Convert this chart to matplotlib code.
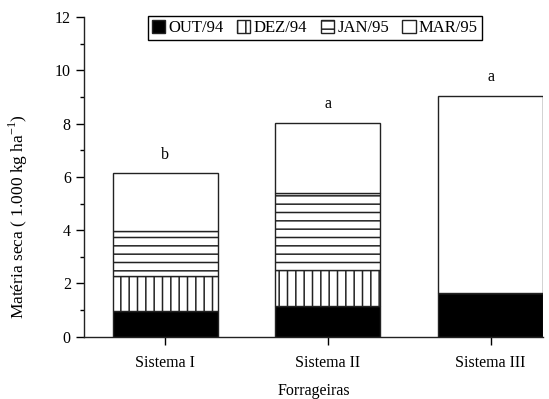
import matplotlib.pyplot as plt
import numpy as np

plt.rcParams['font.family'] = ['Liberation Serif', 'DejaVu Serif']
plt.rcParams['hatch.linewidth'] = 1.1

# dados
sistemas = ['Sistema I', 'Sistema II', 'Sistema III']
out94 = [0.98, 1.17, 1.65]
dez94 = [1.30, 1.34, 0.0]
jan95 = [1.70, 2.90, 0.0]
mar95 = [2.16, 2.62, 7.40]
letras = ['b', 'a', 'a']

periodos = ['OUT/94', 'DEZ/94', 'JAN/95', 'MAR/95']
series = [out94, dez94, jan95, mar95]
cores = ['black', 'white', 'white', 'white']
hachuras = [None, '||', '--', None]

fig = plt.figure(figsize=(5.49, 3.99), dpi=100)
ax = fig.add_axes([0.153, 0.156, 0.836, 0.801])

x = np.arange(len(sistemas))
largura = 0.645
base = np.zeros(len(sistemas))
for nome, vals, cor, hach in zip(periodos, series, cores, hachuras):
    ax.bar(x, vals, largura, bottom=base, color=cor, edgecolor='#222222',
           hatch=hach, linewidth=1.0, label=nome)
    base = base + np.array(vals)

for xi, tot, let in zip(x, base, letras):
    ax.text(xi, tot + 0.4, let, ha='center', va='bottom', fontsize=11.5)

ax.set_xlim(-0.5, 2 + largura / 2)
ax.set_ylim(0, 12)
ax.set_yticks(np.arange(0, 13, 2))
ax.set_yticks(np.arange(0, 13, 1), minor=True)
ax.set_xticks(x)
ax.set_xticklabels(sistemas)
ax.tick_params(axis='both', labelsize=11.5, direction='out', length=6, width=1)
ax.tick_params(axis='x', pad=7)
ax.tick_params(axis='y', which='minor', length=3, width=1)
ax.spines['top'].set_visible(False)
ax.spines['right'].set_visible(False)
for s in ['left', 'bottom']:
    ax.spines[s].set_linewidth(1.0)
    ax.spines[s].set_color('#222222')

ax.set_ylabel('Matéria seca ( 1.000 kg ha$^{\\mathregular{-1}}$)', fontsize=12.5)
ax.yaxis.set_label_coords(-0.118, 0.375)
ax.set_xlabel('Forrageiras', fontsize=11.5, labelpad=9)

leg = ax.legend(loc='upper center', bbox_to_anchor=(0.503, 1.015), ncol=4,
                fontsize=12, frameon=True, fancybox=False, framealpha=1,
                edgecolor='black', handlelength=0.8, handleheight=0.8,
                handletextpad=0.2, columnspacing=0.8, borderpad=0.25,
                borderaxespad=0.2)
leg.get_frame().set_linewidth(1.0)

fig.savefig('out.png', dpi=100)
